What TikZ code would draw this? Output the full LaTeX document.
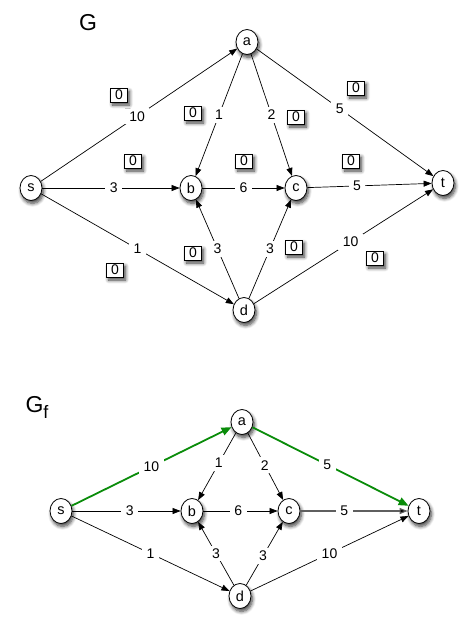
\documentclass[tikz,border=0pt]{standalone}
\usepackage{fontspec}
\setmainfont{Liberation Sans}
\usetikzlibrary{shapes.geometric,arrows.meta,shadows.blur}
\definecolor{flowgreen}{RGB}{10,140,10}
\definecolor{edgegray}{RGB}{95,95,95}
\begin{document}
\begin{tikzpicture}[x=1pt,y=-1pt,
  vertex/.style={ellipse,draw,line width=0.8pt,fill=white,minimum width=22pt,minimum height=25pt,inner sep=0pt,font=\fontsize{14.5}{14.5}\selectfont,
    blur shadow={shadow xshift=1.5pt,shadow yshift=-3pt,shadow blur steps=8,shadow blur radius=3.5pt,shadow opacity=75}},
  flowbox/.style={rectangle,draw,line width=0.8pt,fill=white,minimum width=17pt,minimum height=14pt,inner sep=0pt,font=\fontsize{14}{14}\selectfont,
    blur shadow={shadow xshift=2pt,shadow yshift=-3pt,shadow blur steps=8,shadow blur radius=3.5pt,shadow opacity=75}},
  lab/.style={fill=white,inner xsep=4.5pt,inner ysep=3pt,font=\fontsize{14}{14}\selectfont},
  edge/.style={draw,line width=0.7pt,-{Triangle[length=8pt,width=6pt]}},
  gedge/.style={draw=flowgreen,line width=1.8pt,-{Triangle[length=10pt,width=8pt]}},
  grayedge/.style={draw=edgegray,line width=1.1pt,-{Triangle[length=8pt,width=6pt,fill=black]}},
  title/.style={font=\fontsize{23}{23}\selectfont}]
\useasboundingbox (0,0) rectangle (476,632);

% ---------- G ----------
\node[title] (G) at (88,23) {G};
\node[vertex] (s1) at (31,188) {s};
\node[vertex] (a1) at (247,42) {a};
\node[vertex] (b1) at (191,188) {b};
\node[vertex] (c1) at (296,188) {c};
\node[vertex] (t1) at (443,183) {t};
\node[vertex] (d1) at (244,310) {d};

\path[edge] (s1) -- node[lab,pos=.49] (l1) {10} (a1);
\path[edge] (a1) -- node[lab,pos=.5] (l2) {1} (b1);
\path[edge] (a1) -- node[lab,pos=.5] (l3) {2} (c1);
\path[edge] (a1) -- node[lab,pos=.47] (l4) {5} (t1);
\path[edge] (s1) -- node[lab,pos=.52] (l5) {3} (b1);
\path[edge] (b1) -- node[lab,pos=.5] (l6) {6} (c1);
\path[edge] (c1) -- node[lab,pos=.4] (l7) {5} (t1);
\path[edge] (s1) -- node[lab,pos=.5] (l8) {1} (d1);
\path[edge] (d1) -- node[lab,pos=.5] (l9) {3} (b1);
\path[edge] (d1) -- node[lab,pos=.5] (l10) {3} (c1);
\path[edge] (d1) -- node[lab,pos=.54] (l11) {10} (t1);

\node[flowbox] (f1) at (119,95) {0};
\node[flowbox] (f2) at (193,113) {0};
\node[flowbox] (f3) at (133,161) {0};
\node[flowbox] (f4) at (244,161) {0};
\node[flowbox] (f5) at (296,117) {0};
\node[flowbox] (f6) at (356,88) {0};
\node[flowbox] (f7) at (351,161) {0};
\node[flowbox] (f8) at (115,270) {0};
\node[flowbox] (f9) at (193,253) {0};
\node[flowbox] (f10) at (294,247) {0};
\node[flowbox] (f11) at (375,258) {0};

% ---------- G_f ----------
\node[title,anchor=base west] (Gf) at (22,412) {G\raisebox{-6pt}{\fontsize{18}{18}\selectfont f}};
\node[vertex] (s2) at (61,511) {s};
\node[vertex] (a2) at (242,422) {a};
\node[vertex] (b2) at (192,511) {b};
\node[vertex] (c2) at (289,511) {c};
\node[vertex] (t2) at (419,511) {t};
\node[vertex] (d2) at (240,596) {d};

\path[gedge] (s2) -- node[lab,pos=.5] (m1) {10} (a2);
\path[edge] (a2) -- node[lab,pos=.45] (m2) {1} (b2);
\path[edge] (a2) -- node[lab,pos=.48] (m3) {2} (c2);
\path[gedge] (a2) -- node[lab,pos=.48] (m4) {5} (t2);
\path[edge] (s2) -- node[lab,pos=.53] (m5) {3} (b2);
\path[edge] (b2) -- node[lab,pos=.47] (m6) {6} (c2);
\path[grayedge] (c2) -- node[lab,pos=.41] (m7) {5} (t2);
\path[edge] (s2) -- node[lab,pos=.5] (m8) {1} (d2);
\path[edge] (d2) -- node[lab,pos=.5] (m9) {3} (b2);
\path[edge] (d2) -- node[lab,pos=.46] (m10) {3} (c2);
\path[edge] (d2) -- node[lab,pos=.5] (m11) {10} (t2);
\end{tikzpicture}
\end{document}
